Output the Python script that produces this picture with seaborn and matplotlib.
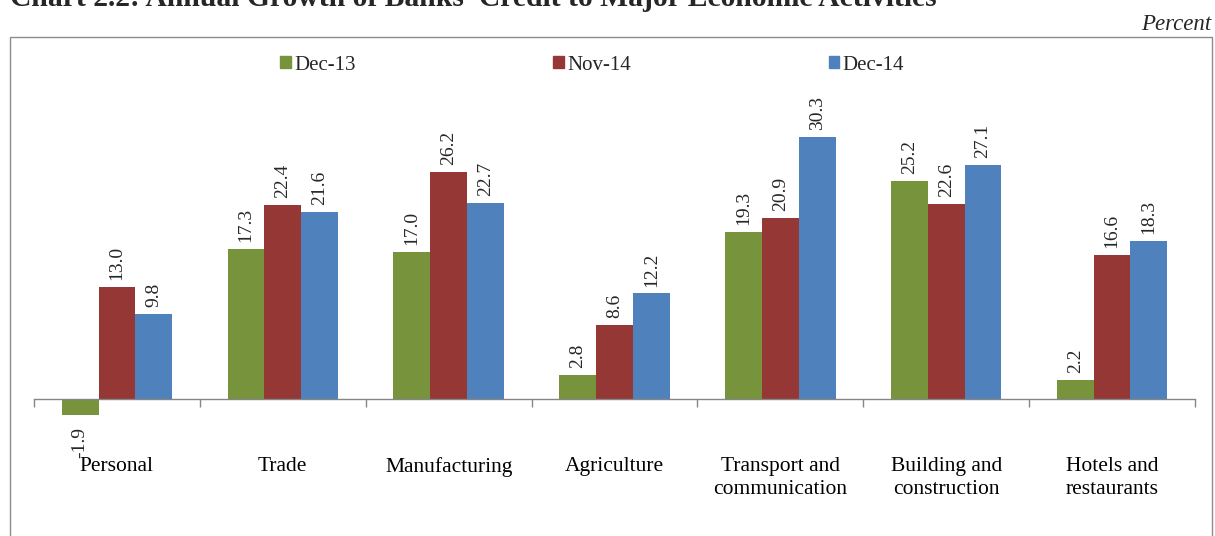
import matplotlib
matplotlib.use("Agg")
import matplotlib.pyplot as plt
from matplotlib.patches import Rectangle
import seaborn as sns
import pandas as pd

categories = ["Personal", "Trade", "Manufacturing", "Agriculture",
              "Transport and\ncommunication", "Building and\nconstruction",
              "Hotels and\nrestaurants"]
series_names = ["Dec-13", "Nov-14", "Dec-14"]
dec13 = [-1.9, 17.3, 17.0, 2.8, 19.3, 25.2, 2.2]
nov14 = [13.0, 22.4, 26.2, 8.6, 20.9, 22.6, 16.6]
dec14 = [9.8, 21.6, 22.7, 12.2, 30.3, 27.1, 18.3]
colors = ["#77933C", "#953735", "#4F81BD"]

df = pd.DataFrame({
    "category": categories * 3,
    "series": [s for s in series_names for _ in categories],
    "value": dec13 + nov14 + dec14,
})

sns.set_theme(style="white")
plt.rcParams["font.family"] = ["Liberation Serif", "DejaVu Serif"]

W, H = 1215, 536
fig = plt.figure(figsize=(W / 100, H / 100), dpi=100)

# frame around the chart area
fig.patches.append(Rectangle((10 / W, -0.05), (1212 - 10) / W, 1.05 - 37 / H,
                             transform=fig.transFigure, fill=False,
                             edgecolor="#8c8c8c", linewidth=1.0, zorder=0))

ax_left, ax_right = 34, 1195
ax_top, ax_bot = 40, 530
ax = fig.add_axes([ax_left / W, 1 - ax_bot / H, (ax_right - ax_left) / W,
                   (ax_bot - ax_top) / H])
ax.patch.set_alpha(0)

sns.barplot(data=df, x="category", y="value", hue="series",
            order=categories, hue_order=series_names, palette=colors,
            saturation=1, width=0.665, gap=0, linewidth=0, ax=ax,
            legend=False, errorbar=None)

px_per_unit = 8.65
zero_px = 399
ax.set_ylim((zero_px - ax_bot) / px_per_unit, (zero_px - ax_top) / px_per_unit)
ax.set_xlim(-0.5, len(categories) - 0.5)

for spine in ["top", "right", "left"]:
    ax.spines[spine].set_visible(False)
ax.spines["bottom"].set_position(("data", 0))
ax.spines["bottom"].set_color("#868686")
ax.spines["bottom"].set_linewidth(1.0)
ax.set_yticks([])
ax.set_xlabel("")
ax.set_ylabel("")

ax.set_xticks(range(len(categories)))
ax.set_xticklabels(categories, fontsize=15.5, linespacing=1.28, va="top")
ax.set_xticks([i - 0.5 for i in range(len(categories) + 1)], minor=True)
ax.tick_params(axis="x", which="major", length=0, pad=42, colors="black")
ax.tick_params(axis="x", which="minor", length=6, width=1.0,
               color="#868686", direction="out", bottom=True)

# value labels, rotated
for container in ax.containers:
    for bar in container:
        v = bar.get_height()
        xc = bar.get_x() + bar.get_width() / 2
        if v >= 0:
            ax.annotate(f"{v:.1f}", (xc, v), xytext=(0, 5),
                        textcoords="offset points", rotation=90,
                        ha="center", va="bottom", fontsize=14)
        else:
            ax.annotate(f"{v:.1f}", (xc, v), xytext=(0, -8),
                        textcoords="offset points", rotation=90,
                        ha="center", va="top", fontsize=14)

# legend
handles = [Rectangle((0, 0), 1, 1, color=c) for c in colors]
fig.legend(handles, series_names, loc="center", ncol=3,
           bbox_to_anchor=(592 / W, 1 - 65 / H), frameon=False,
           fontsize=15, handlelength=0.5, handleheight=0.5,
           handletextpad=0.15, columnspacing=9.5)

fig.text(1211 / W, 1 - 25 / H, "Percent", ha="right", va="center",
         fontsize=16.5, style="italic")
fig.text(10 / W, 1 - 6 / H,
         "Chart 2.2: Annual Growth of Banks\u2019 Credit to Major Economic Activities",
         ha="left", va="baseline", fontsize=21.3, fontweight="bold")

fig.savefig("out.png", dpi=100)
